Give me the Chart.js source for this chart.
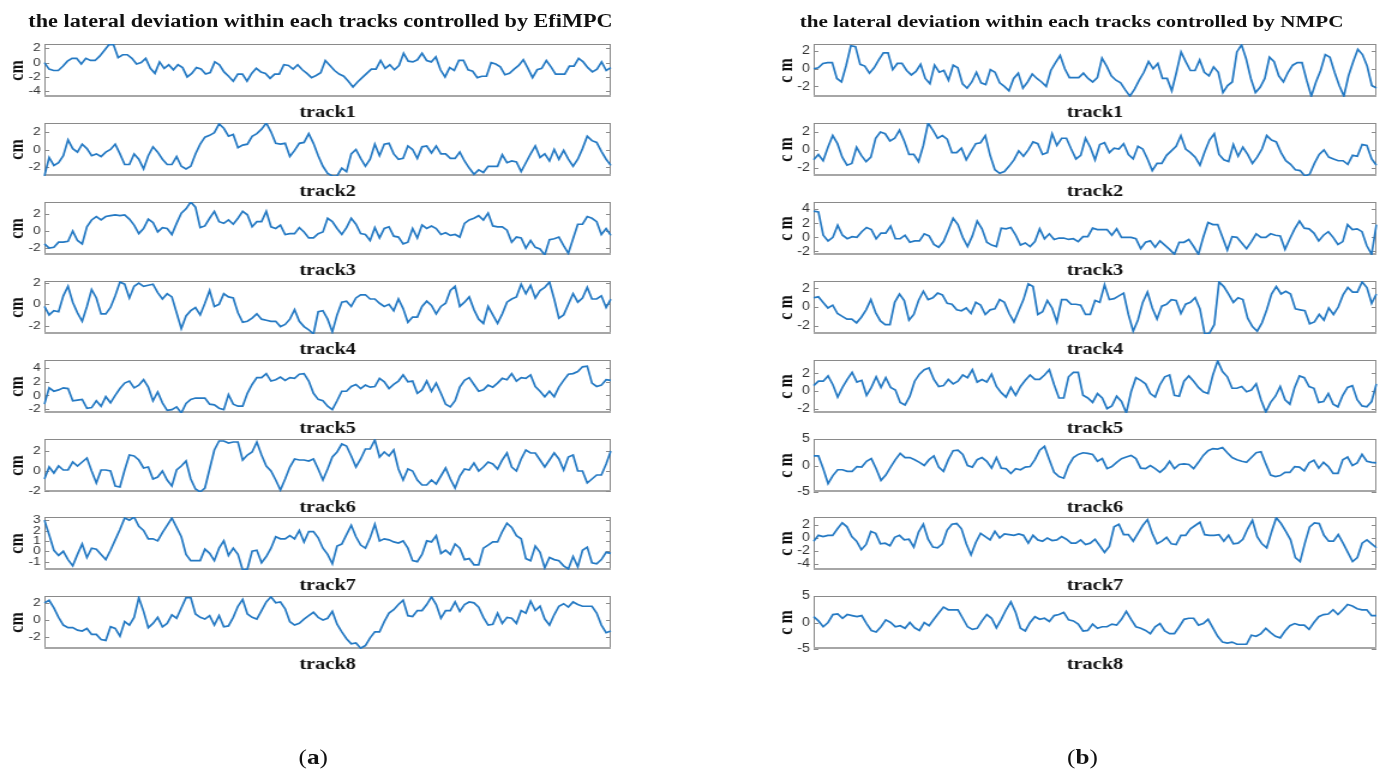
<!DOCTYPE html>
<html><head><meta charset="utf-8">
<script src="https://cdn.jsdelivr.net/npm/chart.js@4.4.1/dist/chart.umd.min.js"></script>
<style>
html,body{margin:0;padding:0;background:#fff;width:1389px;height:774px;overflow:hidden}
#wrap{position:absolute;left:0;top:0;width:1158px;height:774px;transform:scaleX(1.2);transform-origin:0 0}
.ttl{position:absolute;font-family:'Liberation Serif','Times New Roman',serif;font-weight:bold;font-size:18.5px;line-height:20px;white-space:nowrap;color:#111;text-align:center;width:600px}
.cap{position:absolute;font-family:'Liberation Serif','Times New Roman',serif;font-size:21px;line-height:21px;color:#111;text-align:center;width:80px}
canvas{position:absolute}
</style></head><body>
<div id="wrap">
<div class="ttl" style="left:-33px;top:11px">the lateral deviation within each tracks controlled by EfiMPC</div>
<div class="ttl" style="left:593px;top:11px;font-size:17.6px">the lateral deviation within each tracks controlled by NMPC</div>
<div class="cap" style="left:221px;top:747px">(<b>a</b>)</div>
<div class="cap" style="left:862px;top:747px">(<b>b</b>)</div>
</div>
<script>
// ---------- data: EfiMPC (left column) ----------
const efi1 = [0,-0.9,-1.1,-1.1,-0.5,0.2,0.6,0.6,-0.2,0.6,0.3,0.3,0.9,1.7,2.5,2.5,0.7,1.1,1.1,0.6,-0.2,0,0.6,-0.8,-1.5,0.1,-0.8,-0.3,-1,-0.3,-0.7,-2,-1.5,-0.7,-0.9,-1.6,-1.4,0.1,-0.3,-1.3,-1.9,-2.6,-1.6,-1.6,-2.6,-1.5,-0.8,-1.3,-1.5,-2.2,-1.6,-1.6,-0.3,-0.4,-0.9,-0.3,-1,-1.5,-2.1,-1.8,-1.4,0.3,-0.4,-1.1,-1.6,-1.9,-2.6,-3.4,-2.7,-2.1,-1.5,-0.9,-0.9,0.3,-0.8,-0.3,-1,-0.4,1.3,0.2,0.1,0.4,1.3,0.3,0.1,0.8,-1,-2,-0.7,-1.1,0.3,0.3,-1,-1.2,-2.1,-1.9,-1.9,0,-0.2,-0.6,-1.7,-1.5,-0.9,-0.4,0.4,-0.8,-2.1,-1,-0.8,0.3,-0.6,-1.6,-1.6,-1.6,-0.5,-0.5,0.6,0.1,-0.7,-1.3,-0.9,0.1,-1.1,-0.7];
const efi2 = [-3.0,-0.9,-1.8,-1.5,-0.7,1.1,0.1,-0.3,0.6,0.1,-0.7,-0.5,-0.8,-0.3,0,0.6,-0.5,-1.7,-1.7,-0.5,-1.1,-2.2,-0.7,0.3,-0.3,-1.1,-1.7,-1.7,-0.8,-1.9,-2.2,-1.9,-0.5,0.6,1.4,1.6,1.9,2.9,2.4,1.5,1.7,0.2,0.5,0.6,1.5,1.8,2.3,3.0,2.0,0.7,0.6,0.7,-0.8,-0.1,0.7,0.8,1.8,0.7,-0.7,-1.9,-2.7,-3.0,-3.0,-2.1,-2.5,-0.5,0,-1,-1.9,-1.1,0.6,-0.7,0.6,0.7,-0.5,-1.1,-1,0.4,0,-1,0.3,0.4,-0.4,0.4,-0.5,-0.5,-1,-1,-0.3,-1.3,-2.1,-2.8,-2.3,-2.6,-1.9,-1.9,-1.9,-0.6,-1.5,-1.3,-1.4,-2.5,-1.5,-0.5,0.4,-0.9,-0.5,-1.3,0,-1.1,-0.1,-1.1,-1.9,-1.1,0.1,1.5,1.0,0.8,-0.2,-1.1,-1.8];
const efi3 = [-1.5,-2.0,-1.9,-1.3,-1.3,-1.2,0,-1.1,-1.5,0.5,1.3,1.7,1.3,1.7,1.8,1.9,1.8,1.9,1.4,0.7,-0.3,0.3,1.4,1.0,-0.1,0.4,0.3,-0.4,0.9,2.1,2.6,3.4,2.8,0.4,0.6,1.5,2.3,1.1,0.9,1.3,0.8,1.5,2.3,1.9,0.5,1.1,1.1,2.3,0.5,0.3,0.7,-0.4,-0.3,-0.3,0.4,-0.1,-0.8,-0.8,-0.3,-0.1,1.5,1.1,0.3,-0.4,0.4,1.5,0.8,-0.3,-0.4,-1.1,0.4,-0.8,0.3,0.5,-0.6,-0.7,-1.5,-1.3,0.3,-0.8,0.7,0.3,0.6,0.3,-0.4,-0.2,-0.5,-0.4,-0.7,0.9,1.3,1.5,1.8,1.3,2.1,0.6,0.5,0.5,0.1,-1.3,-0.7,-0.8,-2.0,-1.1,-1.9,-2.1,-2.8,-1.0,-0.9,-0.7,-1.7,-2.6,-0.9,0.8,0.8,1.7,1.5,1.1,-0.4,0.3,-0.5];
const efi4 = [-0.2,-1.0,-0.6,-0.7,0.8,1.7,0.2,-0.8,-1.6,-0.2,1.4,0.6,-0.9,-0.9,-0.3,0.8,2.1,1.9,0.6,1.7,2.0,1.7,1.8,1.9,1.1,0.5,1.0,0.7,-0.8,-2.3,-1.1,-0.6,-0.3,-1.0,0.1,1.3,-0.2,0,1.0,0.7,0.6,-0.8,-1.7,-1.6,-1.3,-0.9,-1.4,-1.5,-1.6,-1.6,-2.1,-1.9,-1.4,-0.5,-1.6,-2.1,-2.4,-2.8,-0.7,-0.6,-1.4,-2.6,-1.0,0.2,0.3,-0.2,0.6,0.9,0.9,0.5,0.5,0.1,-0.2,0,-0.6,0.5,-0.4,-1.7,-1.2,-1.2,-0.2,0.3,-0.1,-0.9,-0.2,0.1,1.3,1.7,-0.2,0.2,0.7,-0.5,-1.4,-1.8,-0.2,-1.0,-1.8,-0.9,0.2,0.5,0.7,1.9,1.0,1.8,0.6,1.3,1.6,2.1,0.5,-1.3,-1.0,0,1.0,0.2,0.6,1.6,0.5,0.5,0.8,-0.3,0.5];
const efi5 = [-1.3,1.1,0.6,0.8,1.1,1.0,-0.8,-0.7,-0.6,-1.9,-1.8,-0.8,-1.6,-0.2,-1.1,0,1.0,1.8,2.1,1.1,1.5,2.3,1.2,-0.8,0.5,-1.1,-2.2,-2.1,-1.7,-2.6,-1.2,-0.6,-0.4,-0.4,-0.4,-1.3,-1.4,-1.9,-2.1,0.1,-1.3,-1.6,-1.6,0.3,1.6,2.6,2.6,3.2,2.1,2.3,2.7,2.2,2.6,2.5,3.1,3.2,2.1,0.3,-0.6,-0.8,-1.6,-2.1,-0.8,0.6,0.6,1.3,1.6,1.0,1.5,1.2,1.3,2.5,2.0,1.0,1.6,2.1,3.0,2.0,2.1,0.3,0.8,2.1,0.6,1.8,0.3,-1.3,-1.7,-0.8,1.2,2.2,2.6,1.6,0.6,0.8,1.5,1.2,1.8,2.5,2.3,3.2,2.1,2.6,2.5,3.0,1.3,0.6,-0.2,0.6,-0.2,1.2,2.2,3.1,3.2,3.5,4.2,4.3,1.8,1.3,1.5,2.3,2.2];
const efi6 = [-0.8,0.4,-0.2,0.5,0.1,0.1,0.9,0.5,0.9,1.3,0,-1.2,0.1,0.1,0,-1.5,-1.6,0.1,1.6,1.5,1.1,0.3,0.4,-0.8,-0.6,0,-0.9,-1.5,0.1,0.5,1.0,-0.8,-1.8,-2.1,-1.7,0.2,2.1,3.0,3.0,2.8,2.9,2.9,1.1,1.6,1.9,2.9,1.6,0.5,0,-0.9,-1.9,-0.8,0.4,1.2,1.1,1.1,1.0,1.2,0.2,-0.9,0.2,1.4,1.9,2.7,2.5,1.5,0.4,1.2,2.2,2.2,3.1,1.4,1.9,1.5,2.1,0.2,-0.9,0.2,0,-0.9,-1.4,-1.4,-0.9,-1.3,-0.5,0.3,-0.8,-1.7,-0.5,0.2,0.1,0.8,0,0.4,0.9,0.7,0.2,1.1,1.8,0.4,0,1.2,2.1,1.8,1.8,1.1,0.4,1.1,1.8,1.2,0.1,1.4,1.6,0,0,-1.2,-0.8,-0.4,-0.4,0.7,2.0];
const efi7 = [3.0,1.6,0.1,-0.4,0,-0.8,-1.4,-0.3,0.7,-0.6,0.3,0.2,-0.3,-0.8,0.1,1.1,2.1,3.2,3.0,3.3,2.4,2.0,1.2,1.2,1.0,1.8,2.5,3.2,2.3,1.4,-0.3,-0.9,-0.9,-0.9,0.2,-0.2,-0.9,0.3,1.0,-0.4,0.3,-0.3,-1.8,-1.7,0,0.1,-1.1,-0.5,0.3,1.4,1.2,1.2,1.5,1.2,2.0,0.9,1.9,1.9,1.3,0.3,-0.3,-1.2,0.5,0.7,1.6,2.5,1.4,0.6,0.3,1.3,2.6,1.0,1.2,1.1,0.9,0.8,1.0,0.3,-0.9,-1.0,-0.3,1.0,0.9,1.5,-0.2,0.1,-0.3,0.7,0.3,-0.8,-0.7,-1.3,-1.3,0.3,0.6,0.9,0.9,1.9,2.7,2.3,1.5,1.2,-0.7,-0.9,0.5,-0.1,-1.6,-0.6,-0.8,-0.9,-1.4,-1.7,-0.5,-1.5,0.1,0.4,-1.1,-1.2,-0.8,-0.1,-0.2];
const efi8 = [2.0,2.3,1.4,0.3,-0.6,-0.9,-0.9,-1.2,-1.3,-1.0,-1.7,-1.7,-2.3,-2.4,-0.8,-1.0,-1.9,-0.2,-0.6,0.3,2.6,1.0,-0.9,-0.4,0.3,-0.8,-0.4,0.6,0.2,1.4,2.6,2.6,0.7,0.3,0.1,0.5,-0.6,0.5,-0.8,-0.7,0.3,1.6,2.4,0.7,0.3,0.1,1.1,2.1,2.7,2.0,2.1,1.3,-0.2,-0.6,-0.4,0.1,0.5,0.9,0.3,0,0.2,1.0,-0.5,-1.4,-2.2,-2.8,-2.7,-3.3,-3.0,-2.1,-1.4,-1.4,-0.2,0.8,1.2,1.8,2.3,0.5,0.4,1.1,1.1,1.8,2.7,1.8,0.2,1.1,1.1,2.1,1.0,1.8,2.1,2.0,1.5,0.3,-0.6,-0.5,0.8,-0.4,0.3,0.2,-0.4,1.1,0.8,2.2,1.1,1.6,0.1,-0.6,0.6,1.6,1.9,1.5,2.1,1.8,1.6,1.6,1.6,0.8,-0.6,-1.5,-1.3];

// ---------- data: NMPC (right column) ----------
const nmpc1 = [0,0.1,0.6,0.7,0.7,-1.1,-1.5,0.4,2.6,2.5,0.5,0.3,-0.5,0.1,1.0,1.8,1.8,-0.1,0.6,0.6,-0.2,-0.7,-0.3,0.5,-1.1,-1.7,0.4,-0.4,-0.2,-1.3,0.4,0.1,-1.7,-2.2,-1.5,-0.4,-1.6,-1.8,-0.1,-0.4,-1.6,-2.0,-2.5,-1.1,-0.5,-2.2,-1.5,-0.6,-1.1,-1.5,-2.0,-0.2,0.7,1.5,0,-1.0,-1.0,-1.0,-0.5,-1.1,-1.5,-1.0,1.2,0.3,-0.8,-1.3,-1.6,-2.4,-3.1,-2.3,-1.3,-0.4,0.8,0,0.6,-1.1,-1.1,-2.5,-0.4,1.9,0.8,-0.2,-0.2,1.0,-0.4,-0.8,0.2,-0.4,-2.7,-1.9,-1.5,1.9,2.7,1.1,-1.1,-2.7,-2.1,-1.1,1.3,0.8,-0.8,-1.5,-0.4,0.4,0.7,0.7,-1.3,-3.1,-1.5,-0.2,1.6,1.3,-0.4,-1.9,-3.1,-0.8,0.8,2.2,1.6,0.3,-1.9,-2.2];
const nmpc2 = [-1.1,-0.5,-1.2,0.3,1.6,0.7,-0.8,-1.7,-1.5,0.3,-0.6,-1.3,-0.8,1.3,2.0,1.8,1.0,1.3,2.2,1.0,-0.5,-0.5,-1.3,0.5,3.0,2.2,1.3,1.6,1.2,-0.3,-0.3,0.2,-1.1,-0.2,0.7,0.8,1.6,-0.6,-2.2,-2.6,-2.4,-1.8,-1.1,-0.1,-0.7,0,0.9,0.7,-0.5,-0.3,1.8,0.5,1.3,1.3,0.1,-1.0,-0.6,1.3,0.3,-1.1,0.6,0.8,-0.3,0.2,0.1,0.7,-0.5,-1.0,0.4,0.1,-1.0,-2.3,-1.5,-1.5,-0.6,-0.1,0.4,1.6,0.1,-0.3,-0.8,-1.7,-0.2,1.1,1.8,-0.5,-1.1,-1.3,0.6,-0.7,0.3,-0.5,-1.5,-0.8,0.1,1.6,1.1,0.9,-0.3,-1.2,-1.6,-2.2,-2.3,-2.9,-2.7,-1.5,-0.5,0,-0.8,-1.0,-1.2,-1.2,-1.6,-0.6,-0.7,0.6,0.5,-1.0,-1.7];
const nmpc3 = [3.7,3.6,0.3,-0.5,0,1.7,0.3,-0.2,0.1,0,0.8,1.4,1.1,-0.2,0.6,0.6,1.6,-0.2,-0.2,0.3,-0.7,-0.5,-0.5,0.5,0.2,-1.0,-1.4,-0.6,1.0,2.7,1.8,0,-1.3,0.2,2.3,1.2,-0.7,-1.1,-1.3,1.3,1.2,1.4,0.3,-1.1,-0.8,-1.3,-0.6,1.2,-0.2,0.5,-0.3,-0.1,-0.1,-0.3,-0.2,-0.6,0.1,0.1,1.3,1.1,1.1,1.1,0.3,1.2,0,0,0,-0.2,-1.6,-0.7,-0.5,-1.4,-0.5,-1.1,-1.7,-2.4,-0.7,-0.7,-0.3,-1.3,-2.4,0,2.1,1.8,1.8,0,-1.8,0.1,0,-0.8,-1.6,-0.6,0.5,0,0,0.5,0.3,0.2,-1.7,-0.2,1.2,2.3,1.3,1.2,0.6,-0.5,0.3,0.8,0,-1.0,-0.6,1.8,1.1,1.2,0.8,-1.2,-2.4,1.8];
const nmpc4 = [1.0,1.1,0.5,-0.1,0.2,-0.7,-1.0,-1.3,-1.3,-1.7,-1.1,-0.3,0.8,-0.6,-1.5,-1.9,-1.9,0.5,1.4,0.7,-1.4,-0.8,0.7,1.7,0.8,1.0,1.5,1.3,0.4,0.3,-0.3,-0.4,-0.1,-0.7,0.5,0.2,-0.8,-0.3,-0.2,0.8,0.5,-0.7,-1.6,-0.4,0.8,2.5,2.2,-0.8,-0.5,0.7,-0.1,-1.6,0.8,0.8,0.3,0.3,0.2,-0.8,-0.8,0.7,0.5,2.4,0.8,0.9,1.2,1.5,-0.8,-2.6,-1.4,0.5,1.6,-0.1,-1.3,0.1,0.3,0.8,0.7,-0.7,0.3,0.5,1.0,-0.2,-2.9,-2.8,-1.9,2.7,2.2,1.4,0.5,1.0,0.8,-1.2,-2.1,-2.6,-1.7,-0.3,1.4,2.2,1.4,1.7,1.4,-0.2,-0.3,-0.4,-1.8,-1.6,-0.8,-1.4,-0.1,-0.8,0,1.3,2.1,1.6,1.6,2.7,2.1,0.4,1.4];
const nmpc5 = [0.6,1.1,1.1,1.7,0.7,-0.7,0.4,1.3,2.1,1.0,1.2,-0.5,0.4,1.6,0.4,1.5,0.4,0.1,-1.3,-1.6,-0.6,1.1,1.9,2.4,2.6,1.3,0.5,0.6,1.3,0.8,1.1,1.8,1.5,2.4,1.0,1.3,1.0,1.9,0.5,-0.2,-0.7,0.4,-0.5,0.5,1.2,1.8,1.3,1.3,1.8,2.4,0.7,-0.8,-0.8,1.6,2.1,2.1,-0.5,-0.8,-1.3,-0.3,-0.8,-2.0,-1.7,-0.6,-1.2,-2.5,-0.1,1.5,1.2,0.8,-0.3,-0.7,0.7,1.6,1.8,-0.5,-0.6,1.1,1.7,1.1,0.4,-0.1,-0.3,1.8,3.4,2.2,1.6,0.3,0.3,0.5,-0.1,0.1,0.8,-1.0,-2.4,-1.3,-0.6,0.5,-1.0,-1.5,0.4,1.7,1.5,0.5,0.3,-1.3,-1.2,-0.3,-1.5,-1.8,-0.5,0.4,0.6,-1.0,-1.7,-1.8,-1.2,0.8];
const nmpc6 = [1.8,1.8,-0.6,-3.4,-1.9,-0.8,-0.8,-1.1,-1.1,-0.2,-0.3,0.8,1.3,-0.6,-2.8,-1.8,-0.3,1.1,2.3,1.5,1.5,1.1,0.6,0,1.1,1.8,-0.3,-1.1,1.1,2.8,2.9,2.1,0,-0.3,1.1,1.5,0.8,-0.5,1.5,-0.5,-0.6,-1.5,-0.6,-0.8,-0.3,-0.2,1.1,2.9,3.6,1.1,-1.3,-2.1,-2.4,0,1.5,2.1,2.4,2.3,2.1,0.8,1.3,-0.6,-0.2,0.6,1.3,1.6,1.9,1.3,-0.5,-0.6,0,-0.6,-1.3,-0.5,0.8,-0.6,0.2,0.3,0.2,-0.6,0.6,1.9,2.8,3.2,3.1,3.4,2.4,1.5,1.1,0.8,0.6,1.5,2.4,2.6,0.3,-1.8,-2.1,-1.9,-1.3,-1.3,-0.2,-0.3,-1.0,0.5,1.0,-0.5,0.6,-0.2,-1.5,-1.5,1.1,1.6,0,0.5,2.1,0.8,0.6,0.5];
const nmpc7 = [-0.5,0.4,0.2,0.4,0.4,1.4,2.3,1.7,0.2,-0.5,-1.8,-1.0,1.0,0.7,-0.9,-0.8,-1.2,0.1,0.4,-0.3,-0.2,-1.4,0.9,2.1,-0.2,-1.4,-1.5,-0.9,1.2,2.1,2.2,1.4,-0.9,-2.6,-0.7,0.7,0.2,-0.3,1.0,0,0.6,0.5,0.4,0.6,0.4,-0.8,0.4,-0.3,-0.5,0,-0.4,-0.3,0.2,-0.2,-0.8,-0.8,-0.3,-1.0,-0.8,-0.2,-1.2,-2.2,-1.3,1.7,2.1,0.5,0.5,-0.5,0.7,1.9,2.8,0.7,-0.9,-0.5,0.1,-0.9,-1.0,0.4,0.4,1.4,1.9,2.4,0.5,0.4,0.4,0.5,-0.5,0.4,-0.9,-0.8,-0.2,1.4,2.7,0.2,-0.9,-1.5,0.9,3.1,2.2,1.0,-0.3,-3.0,-3.6,-0.8,1.7,2.3,2.2,0.4,-0.5,-0.5,0.5,-0.8,-2.2,-3.6,-3.0,-0.8,-0.3,-0.9,-1.5];
const nmpc8 = [1.1,0.3,-0.8,0,1.5,1.6,0.8,1.5,1.3,1.1,1.3,-0.2,-1.5,-1.8,-0.8,0.5,0,-0.8,-0.6,-1.1,0,-1.0,-1.5,0,-0.6,0.6,1.8,2.9,2.4,2.4,2.4,0.8,-0.8,-1.3,-1.1,0.3,1.5,0.8,-1.0,0.6,2.4,3.9,1.9,-1.1,-1.6,0,1.1,0.6,0.8,0.2,1.3,1.5,1.9,0.5,0.3,-0.3,-1.6,-1.5,-0.3,-1.1,-0.8,-0.8,-0.3,-0.5,0.6,2.1,0.6,-0.8,-1.1,-1.5,-2.1,-0.8,-0.2,-1.6,-2.1,-2.1,-0.8,0.6,0.8,0.8,-0.5,-0.2,0.6,-1.0,-2.6,-3.7,-3.9,-3.7,-4.1,-4.1,-4.1,-2.4,-2.6,-2.1,-1.1,-1.9,-2.6,-2.9,-1.6,-0.6,-0.2,-0.5,-0.5,-1.3,0,1.1,1.5,1.6,2.4,1.5,2.4,3.4,3.1,2.6,2.4,2.4,1.3,1.3];

// ---------- axis ranges and tick labels ----------
const trackNames = ['track1','track2','track3','track4','track5','track6','track7','track8'];
const efiSeries = [efi1, efi2, efi3, efi4, efi5, efi6, efi7, efi8];
const nmpcSeries = [nmpc1, nmpc2, nmpc3, nmpc4, nmpc5, nmpc6, nmpc7, nmpc8];
const efiMin = [-4.8, -3.0, -2.8, -2.8, -2.6, -2.1, -1.8, -3.4];
const efiMax = [2.6, 3.0, 3.4, 2.2, 5.2, 3.2, 3.3, 2.8];
const nmpcMin = [-3.2, -2.9, -2.5, -2.9, -2.5, -5, -4.9, -5];
const nmpcMax = [2.8, 3.0, 5.0, 2.8, 3.5, 5, 3.2, 5];
const efiTicks = [[-4,-2,0,2],[-2,0,2],[-2,0,2],[-2,0,2],[-2,0,2,4],[-2,0,2],[-1,0,1,2,3],[-2,0,2]];
const nmpcTicks = [[-2,0,2],[-2,0,2],[-2,0,2,4],[-2,0,2],[-2,0,2],[-5,0,5],[-4,-2,0,2],[-5,0,5]];

// ---------- layout ----------
const wrap = document.getElementById('wrap');
const panelTops = [44, 123, 202, 281, 360, 439, 517, 596];
const PAD_TOP = 8, PLOT_H = 53, XAXIS_H = 26, YAXIS_W = 37;

const framePlugin = {
  id: 'frame',
  beforeDatasetsDraw(chart) {
    const {ctx, chartArea: a} = chart;
    const y = chart.scales.y;
    ctx.save();
    ctx.strokeStyle = '#8a8a8a';
    ctx.lineWidth = 1;
    ctx.strokeRect(a.left + 0.5, a.top + 0.5, a.width - 1, a.height - 1);
    ctx.strokeStyle = '#a6a6a6';
    ctx.lineWidth = 2;
    ctx.beginPath(); ctx.moveTo(a.left, a.bottom - 1); ctx.lineTo(a.right, a.bottom - 1); ctx.stroke();
    ctx.strokeStyle = '#8a8a8a';
    ctx.lineWidth = 1;
    y.ticks.forEach(t => {
      const p = Math.round(y.getPixelForValue(t.value)) + 0.5;
      ctx.beginPath();
      ctx.moveTo(a.left, p); ctx.lineTo(a.left + 4, p);
      ctx.moveTo(a.right - 4, p); ctx.lineTo(a.right, p);
      ctx.stroke();
    });
    ctx.restore();
  }
};

function makePanel(left, width, top, data, yMin, yMax, ticks, label, yTitle, tickSize) {
  const c = document.createElement('canvas');
  const h = PAD_TOP + PLOT_H + XAXIS_H;
  c.width = width; c.height = h;
  c.style.left = left + 'px';
  c.style.top = (top - PAD_TOP) + 'px';
  c.style.width = width + 'px';
  c.style.height = h + 'px';
  wrap.appendChild(c);
  new Chart(c, {
    type: 'line',
    data: {
      labels: data.map((_, i) => i),
      datasets: [{data: data, borderColor: '#2479c3', borderWidth: 1.7, pointRadius: 0, tension: 0, fill: false}]
    },
    options: {
      responsive: false, animation: false, devicePixelRatio: 1,
      layout: {padding: {left: 0, right: 2, top: PAD_TOP, bottom: 0}},
      plugins: {legend: {display: false}, tooltip: {enabled: false}},
      scales: {
        x: {
          type: 'category', offset: false,
          grid: {display: false, drawTicks: false}, border: {display: false},
          ticks: {display: false},
          title: {display: true, text: label, color: '#111', padding: 0,
                  font: {family: "'Liberation Serif','Times New Roman',serif", weight: 'bold', size: 17}},
          afterFit(s) { s.height = XAXIS_H; s.paddingLeft = 0; s.paddingRight = 0; }
        },
        y: {
          min: yMin, max: yMax,
          grid: {display: false, drawTicks: false}, border: {display: false},
          afterBuildTicks(s) { s.ticks = ticks.map(v => ({value: v})); },
          ticks: {autoSkip: false, padding: 3, color: '#333',
                  font: {family: "'Liberation Sans',Arial,sans-serif", size: tickSize},
                  callback: v => String(v)},
          title: {display: true, text: yTitle, color: '#111', padding: {top: 5, bottom: 0},
                  font: {family: "'Liberation Serif','Times New Roman',serif", weight: 'bold', size: 16}},
          afterFit(s) { s.width = YAXIS_W; s.paddingTop = 0; s.paddingBottom = 0; }
        }
      }
    },
    plugins: [framePlugin]
  });
}

for (let i = 0; i < 8; i++) {
  makePanel(0, 511, panelTops[i], efiSeries[i], efiMin[i], efiMax[i], efiTicks[i], trackNames[i], 'cm', 11.5);
  makePanel(641, 508, panelTops[i], nmpcSeries[i], nmpcMin[i], nmpcMax[i], nmpcTicks[i], trackNames[i], 'c m', 12);
}
</script>
</body></html>
